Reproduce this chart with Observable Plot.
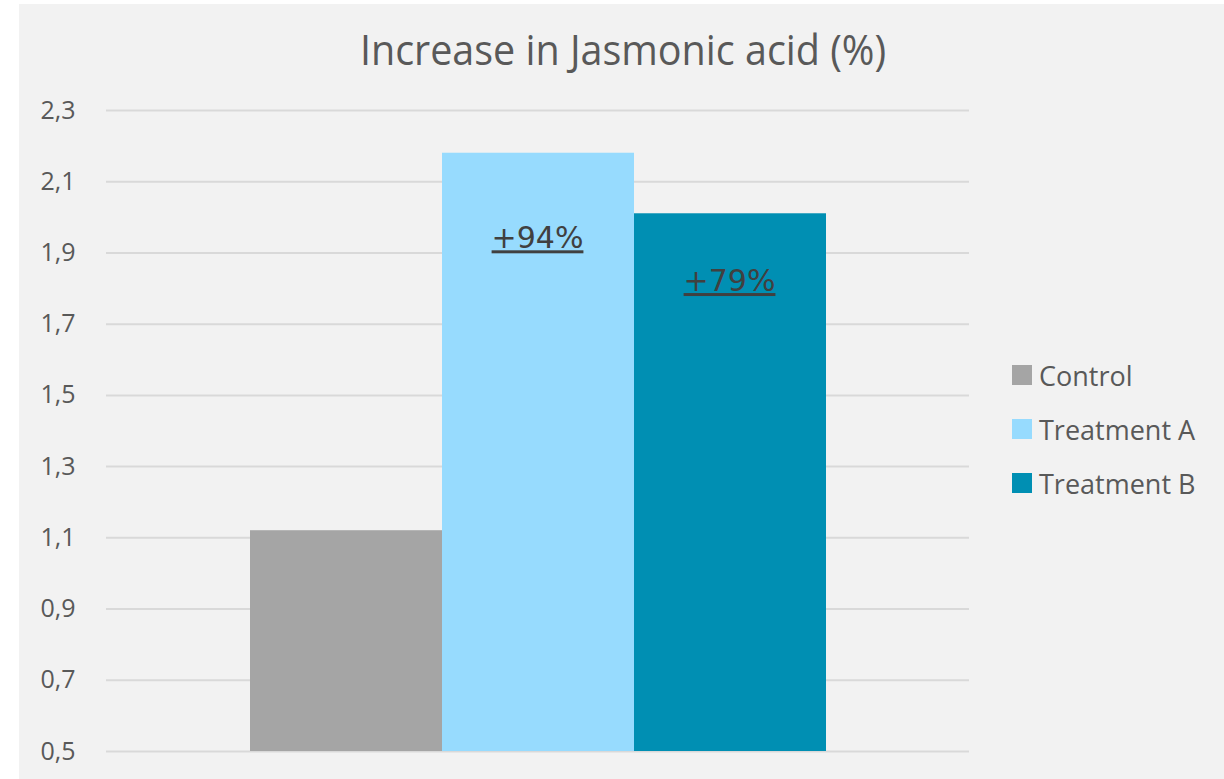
<!DOCTYPE html>
<html>
<head>
<meta charset="utf-8">
<script src="https://cdn.jsdelivr.net/npm/d3@7"></script>
<script src="https://cdn.jsdelivr.net/npm/@observablehq/plot@0.6"></script>
<style>
  html, body { margin: 0; padding: 0; background: #ffffff; }
  #frame { position: absolute; left: 19px; top: 4px; width: 1205px; height: 775px; background: #f2f2f2; }
  #chart { position: absolute; left: 0; top: 0; }
  #title { position: absolute; left: 0; top: 20px; width: 1246px; text-align: center;
    font-family: "Open Sans", "Noto Sans", sans-serif;
    font-size: 42px; color: #595959; transform: scaleX(0.94); transform-origin: 623px 0; }
  #legend { position: absolute; left: 1012px; top: 348px; font-family: "Open Sans", "Noto Sans", sans-serif;
    font-size: 27px; color: #595959; }
  .item { display: flex; align-items: center; height: 54px; }
  .sw { width: 20px; height: 20px; margin-right: 7px; }
</style>
</head>
<body>
<div id="frame"></div>
<div id="chart"></div>
<div id="title">Increase in Jasmonic acid (%)</div>
<div id="legend"></div>
<script>
const categories = ["Control", "Treatment A", "Treatment B"];
const values = [1.12, 2.18, 2.01];
const colors = ["#a5a5a5", "#97dbfe", "#008fb3"];
const labels = ["", "+94%", "+79%"];
const labelPos = [null, 1.94, 1.82];
const yTicks = [0.5, 0.7, 0.9, 1.1, 1.3, 1.5, 1.7, 1.9, 2.1, 2.3];

const data = categories.map((c, i) => ({ cat: c, value: values[i], label: labels[i], ly: labelPos[i] }));

const plot = Plot.plot({
  width: 1224,
  height: 779,
  marginLeft: 106,
  marginRight: 255,
  marginTop: 110,
  marginBottom: 28,
  style: { background: "transparent", fontFamily: "Open Sans, Noto Sans, sans-serif", fontSize: "25px", color: "#595959" },
  x: { domain: categories, paddingInner: 0, paddingOuter: 0.744, axis: null },
  y: { domain: [0.5, 2.3], ticks: yTicks, tickFormat: d => d.toFixed(1).replace(".", ","), label: null, tickSize: 0, tickPadding: 31 },
  color: { domain: categories, range: colors },
  marks: [
    Plot.ruleY(yTicks, { stroke: "#d9d9d9", strokeWidth: 2 }),
    Plot.barY(data, { x: "cat", y1: 0.5, y2: "value", fill: "cat" }),
    Plot.text(data.filter(d => d.label), { x: "cat", y: "ly", text: "label", fontSize: 30, fill: "#404040",
      fontFamily: "DejaVu Sans, sans-serif", dx: -1 })
  ]
});
const yl = plot.querySelector("g[aria-label='y-axis tick label']");
if (yl) { yl.setAttribute("fill", "#595959"); }
plot.querySelectorAll("text").forEach(t => {
  if (t.textContent.startsWith("+")) t.style.textDecoration = "underline";
});
document.getElementById("chart").appendChild(plot);

const legend = document.getElementById("legend");
categories.forEach((c, i) => {
  const row = document.createElement("div");
  row.className = "item";
  const sw = document.createElement("div");
  sw.className = "sw";
  sw.style.background = colors[i];
  const t = document.createElement("span");
  t.textContent = c;
  row.appendChild(sw); row.appendChild(t);
  legend.appendChild(row);
});
</script>
</body>
</html>
